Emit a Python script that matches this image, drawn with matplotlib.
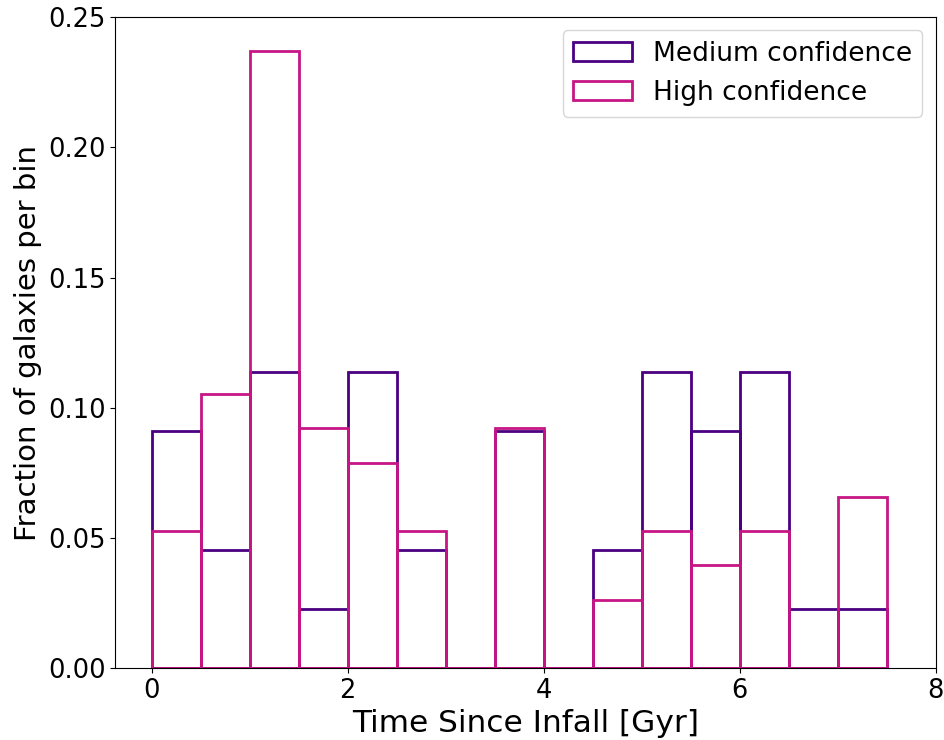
import numpy as np
import matplotlib.pyplot as plt

# bin edges in Gyr (0.5 Gyr bins)
bin_edges = np.arange(0, 7.51, 0.5)
bin_centers = bin_edges[:-1] + 0.25

# fraction of galaxies per bin
medium_frac = [0.0909, 0.0455, 0.1136, 0.0227, 0.1136, 0.0455, 0.0, 0.0909,
               0.0, 0.0455, 0.1136, 0.0909, 0.1136, 0.0227, 0.0227]
high_frac = [0.0526, 0.1053, 0.2368, 0.0921, 0.0789, 0.0526, 0.0, 0.0921,
             0.0, 0.0263, 0.0526, 0.0395, 0.0526, 0.0, 0.0658]

fig, ax = plt.subplots(figsize=(9.44, 7.4), dpi=100)

ax.hist(bin_centers, bins=bin_edges, weights=medium_frac, histtype='bar',
        fill=False, edgecolor='indigo', linewidth=2, label='Medium confidence')
ax.hist(bin_centers, bins=bin_edges, weights=high_frac, histtype='bar',
        fill=False, edgecolor='mediumvioletred', linewidth=2, label='High confidence')

ax.set_xlim(-0.375, 8)
ax.set_ylim(0, 0.25)
ax.set_xticks([0, 2, 4, 6, 8])
ax.set_yticks([0, 0.05, 0.10, 0.15, 0.20, 0.25])
ax.tick_params(labelsize=18.5)
ax.set_xlabel('Time Since Infall [Gyr]', fontsize=22.5)
ax.set_ylabel('Fraction of galaxies per bin', fontsize=21)
ax.legend(fontsize=19, loc='upper right', handlelength=2.2)

plt.subplots_adjust(left=0.122, right=0.991, top=0.977, bottom=0.097)
plt.savefig('out.png', dpi=100)
